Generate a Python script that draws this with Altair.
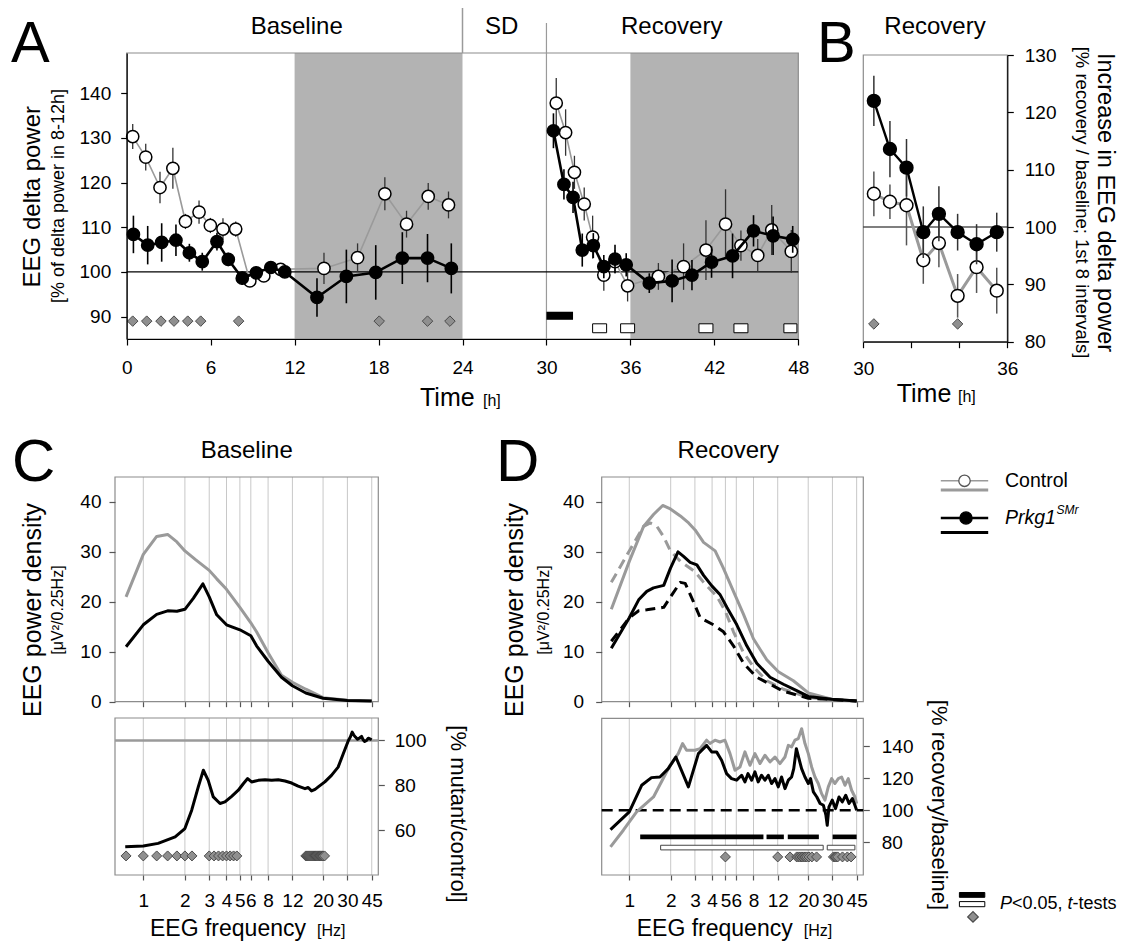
import altair as alt
import pandas as pd

FONT = "Liberation Sans"
W, H = 1111, 934
GRAY = "#9a9a9a"
SHADE = "#b3b3b3"
FRAME = "#8c8c8c"
GRID = "#c8c8c8"
DFILL = "#8f8f8f"
DSTROKE = "#4a4a4a"

# ---------------- Panel A data ----------------
a_time_ticks = [0, 6, 12, 18, 24, 30, 36, 42, 48]
a_value_ticks = [90, 100, 110, 120, 130, 140]
a_dark_start = [12, 36]
a_dark_end = [24, 48]
a_mut_base_t = [0.48, 1.5, 2.5, 3.52, 4.48, 5.4, 6.45, 7.26, 8.26, 9.26, 10.3, 11.3, 13.6, 15.7, 17.8, 19.7, 21.5, 23.2]
a_mut_base_v = [108.4, 106.0, 106.6, 107.1, 104.3, 102.3, 106.8, 102.8, 98.6, 99.8, 101.0, 100.0, 94.3, 99.0, 99.9, 103.1, 103.1, 100.8]
a_mut_base_e = [4.2, 4.3, 4.3, 3.5, 2.0, 2.0, 2.0, 1.5, 1.5, 1.0, 1.0, 1.0, 4.3, 6.0, 6.1, 5.8, 5.4, 5.6]
a_ctl_base_t = [0.43, 1.36, 2.38, 3.3, 4.2, 5.17, 5.98, 6.88, 7.79, 8.8, 9.8, 11.0, 14.1, 16.5, 18.45, 20.0, 21.55, 23.0]
a_ctl_base_v = [130.3, 125.7, 118.9, 123.2, 111.3, 113.4, 110.4, 109.6, 109.6, 98.0, 99.1, 100.6, 100.8, 103.2, 117.5, 110.7, 116.9, 115.0]
a_ctl_base_e = [2.8, 3.0, 3.5, 4.6, 1.7, 2.6, 1.7, 2.4, 1.7, 1.0, 1.0, 1.0, 3.5, 3.2, 3.7, 3.0, 3.0, 3.0]
a_mut_rec_t = [30.5, 31.25, 31.9, 32.56, 33.35, 34.1, 34.9, 35.7, 37.35, 38.98, 40.4, 41.8, 43.3, 44.8, 46.2, 47.6]
a_mut_rec_v = [131.6, 119.6, 116.7, 104.9, 105.9, 101.2, 102.9, 101.6, 97.5, 98.0, 99.3, 102.2, 103.6, 109.2, 108.1, 107.3]
a_mut_rec_e = [3.9, 3.4, 3.5, 3.7, 2.8, 2.6, 3.2, 2.6, 2.2, 4.8, 3.4, 3.5, 5.0, 3.5, 4.3, 3.0]
a_ctl_rec_t = [30.7, 31.37, 32.0, 32.7, 33.3, 34.1, 34.9, 35.8, 38.0, 39.8, 41.4, 42.8, 43.9, 45.1, 46.1, 47.5]
a_ctl_rec_v = [137.8, 131.2, 122.3, 115.2, 107.8, 99.3, 102.3, 96.9, 99.0, 101.2, 104.9, 110.7, 105.9, 103.7, 109.4, 104.6]
a_ctl_rec_e = [5.6, 5.2, 3.7, 3.7, 4.8, 3.5, 2.6, 3.5, 3.0, 5.2, 6.7, 7.8, 3.4, 3.7, 5.6, 4.8]
a_sig_t = [0.43, 1.43, 2.45, 3.38, 4.36, 5.29, 8.0, 18.05, 21.5, 23.1]
a_bar_start = [30.0]
a_bar_end = [31.9]
a_box_start = [33.3, 35.3, 40.9, 43.4, 46.97]
a_box_end = [34.3, 36.3, 41.9, 44.4, 47.9]

# ---------------- Panel B data ----------------
b_time_ticks = [30, 32, 34, 36]
b_value_ticks = [80, 90, 100, 110, 120, 130]
b_t = [30.44, 31.11, 31.8, 32.5, 33.15, 33.93, 34.72, 35.56]
b_mut_v = [122.0, 113.6, 110.35, 99.1, 102.3, 99.1, 97.0, 99.1]
b_mut_e = [4.4, 4.9, 5.0, 4.5, 4.8, 3.2, 3.5, 3.4]
b_ctl_v = [105.8, 104.4, 103.8, 94.2, 97.2, 88.0, 93.0, 88.9]
b_ctl_e = [3.9, 3.0, 7.0, 4.1, 4.2, 3.8, 4.5, 4.0]
b_sig_t = [30.44, 33.93]

# ---------------- Panels C / D data ----------------
freq_ticks = [1, 2, 3, 4, 5, 6, 8, 12, 20, 30, 45]
c_ctl_f = [0.75, 1.0, 1.25, 1.5, 1.75, 2.0, 2.4, 3.0, 3.4, 4.0, 5.0, 6.0, 6.6, 8.0, 10.0, 12.0, 15.0, 20.0, 30.0, 45.0]
c_ctl_v = [21.0, 29.5, 33.1, 33.5, 32.0, 30.2, 28.4, 26.3, 24.6, 22.5, 18.9, 15.8, 14.0, 9.8, 5.3, 3.9, 2.5, 0.8, 0.3, 0.15]
c_mut_f = [0.75, 1.0, 1.25, 1.5, 1.75, 2.0, 2.3, 2.7, 3.0, 3.4, 4.0, 5.0, 6.0, 6.6, 8.0, 10.0, 12.0, 15.0, 20.0, 30.0, 45.0]
c_mut_v = [11.0, 15.4, 17.5, 18.2, 18.1, 18.5, 20.7, 23.6, 21.0, 17.4, 15.4, 14.4, 13.2, 11.2, 8.1, 4.9, 3.2, 1.75, 0.7, 0.25, 0.15]
c_ratio_f = [0.74, 1.0, 1.28, 1.7, 2.0, 2.24, 2.5, 2.72, 2.95, 3.21, 3.59, 3.9, 4.36, 4.87, 5.29, 5.69, 6.08, 6.8, 7.6,
             8.5, 9.48, 10.6, 11.85, 13.2, 14.8, 15.6, 16.5, 17.5, 18.45, 20.6, 23.0, 25.7, 28.0, 30.5, 31.5, 32.5,
             33.3, 34.3, 35.5, 36.9, 38.0, 39.0, 40.0, 41.3, 42.5, 43.6, 45.0]
c_ratio_v = [52.6, 52.9, 54.1, 57.0, 60.7, 68.9, 79.3, 86.7, 82.2, 74.8, 71.9, 72.6, 75.1, 77.8, 80.7, 83.0, 81.5, 82.2, 82.5,
             82.2, 82.5, 81.9, 81.0, 79.6, 78.5, 79.0, 77.5, 78.2, 79.3, 81.5, 84.4, 88.1, 94.1, 100.0, 101.5, 103.7,
             102.5, 101.5, 100.5, 101.2, 101.8, 100.3, 99.5, 100.0, 101.0, 100.7, 100.3]
c_sig_f = [0.75, 1.0, 1.25, 1.5, 1.75, 2.0, 2.25, 3.0, 3.25, 3.5, 3.75, 4.0, 4.25, 4.5, 4.75,
           15.0, 15.25, 15.5, 15.75, 16.0, 16.25, 16.5, 16.75, 17.0, 17.25, 17.5, 17.75, 18.0, 18.25,
           18.5, 18.75, 19.0, 19.25, 19.5, 19.75, 20.0, 20.5]

d_ctl_rec_f = [0.74, 1.0, 1.27, 1.5, 1.75, 1.99, 2.35, 2.70, 3.01, 3.47, 4.21, 4.84, 5.72, 6.77, 7.99, 9.99, 12.14, 15.6, 20.04, 29.6, 45.0]
d_ctl_rec_v = [18.5, 28.1, 35.1, 37.5, 39.3, 38.6, 37.2, 35.8, 34.4, 31.9, 30.2, 26.7, 22.1, 17.5, 12.6, 8.4, 6.0, 4.2, 1.75, 0.5, 0.15]
d_ctl_base_f = [0.74, 1.0, 1.27, 1.42, 1.59, 1.78, 1.99, 2.35, 3.01, 3.47, 4.33, 4.98, 5.72, 6.77, 7.99, 9.99, 13.2, 20.04, 29.6, 45.0]
d_ctl_base_v = [23.9, 30.2, 35.1, 35.8, 35.1, 33.0, 30.2, 28.1, 26.0, 23.9, 21.1, 18.2, 14.0, 9.8, 7.0, 4.2, 2.5, 0.85, 0.35, 0.15]
d_mut_rec_f = [0.74, 1.0, 1.17, 1.34, 1.5, 1.78, 1.99, 2.26, 2.48, 2.77, 3.10, 3.47, 3.98, 4.58, 5.12, 6.05, 7.15, 8.45, 10.56, 13.2, 16.49, 20.04, 29.6, 45.0]
d_mut_rec_v = [10.7, 16.8, 20.4, 22.1, 22.8, 23.3, 26.7, 30.0, 29.1, 27.9, 27.4, 25.3, 23.2, 21.4, 18.9, 15.4, 11.2, 7.7, 4.9, 3.5, 2.2, 1.05, 0.5, 0.15]
d_mut_base_f = [0.74, 1.0, 1.17, 1.34, 1.78, 2.04, 2.35, 2.55, 2.93, 3.28, 4.10, 4.84, 5.72, 6.77, 8.45, 10.56, 13.2, 20.04, 45.0]
d_mut_base_v = [12.1, 16.8, 18.2, 18.4, 18.9, 21.4, 23.9, 23.7, 20.0, 16.8, 15.4, 14.0, 11.2, 7.7, 4.9, 3.5, 2.1, 0.7, 0.15]

d_rat_ctl_f = [0.73, 0.905, 1.13, 1.5, 1.98, 2.27, 2.44, 2.61, 3.0, 3.27, 3.65, 3.86, 4.2, 4.56, 4.96, 5.4, 5.87, 6.38,
               6.93, 7.54, 8.2, 8.92, 9.69, 10.54, 11.46, 12.46, 13.55, 14.33, 15.15, 16.02, 16.94, 17.91, 18.94, 20.03,
               21.18, 22.39, 23.67, 25.03, 26.47, 27.99, 29.6, 31.3, 33.09, 34.99, 37.0, 39.12, 41.36, 43.73, 45.0]
d_rat_ctl_v = [77.1, 87.5, 99.0, 108.3, 128.1, 135.4, 141.7, 137.5, 137.5, 138.5, 143.8, 141.7, 143.8, 142.7, 143.8,
               135.4, 125.0, 127.1, 136.5, 128.1, 135.4, 129.2, 134.4, 130.2, 133.3, 129.2, 133.3, 140.6, 139.6, 143.8,
               144.8, 151.0, 141.7, 135.4, 127.1, 120.8, 116.7, 110.4, 106.3, 114.6, 119.8, 116.7, 119.8, 120.8, 115.6,
               119.8, 112.5, 108.3, 104.2]
d_rat_mut_f = [0.73, 1.0, 1.23, 1.45, 1.67, 1.92, 2.18, 2.69, 3.18, 3.65, 3.97, 4.31, 4.69, 5.1, 5.54, 6.03, 6.56, 6.93,
               7.3, 7.76, 8.2, 8.66, 9.15, 9.69, 10.25, 10.83, 11.46, 12.12, 12.8, 13.55, 14.33, 15.15, 15.7, 16.4,
               17.0, 17.9, 18.94, 20.03, 20.8, 21.8, 23.1, 24.4, 25.8, 26.9, 27.5, 28.3, 29.9, 31.6, 33.5, 35.4, 37.5,
               39.6, 41.9, 43.7, 45.0]
d_rat_mut_v = [87.9, 99.0, 115.6, 120.4, 120.8, 126.0, 133.3, 114.6, 135.4, 140.6, 136.5, 136.5, 131.3, 122.9, 119.8,
               118.8, 121.9, 117.7, 122.9, 118.8, 124.0, 117.7, 121.9, 118.8, 121.9, 116.7, 119.8, 114.6, 120.8, 113.5,
               118.8, 120.8, 126.0, 138.5, 133.3, 126.0, 120.8, 116.7, 119.8, 111.5, 108.3, 104.2, 103.1, 96.9, 90.6,
               102.1, 106.3, 101.0, 108.3, 105.2, 109.4, 104.2, 107.3, 103.1, 100.0]
d_bar_mut_start = [1.2, 9.95, 14.2, 30.1]
d_bar_mut_end = [9.45, 13.3, 23.9, 45.0]
d_bar_ctl_start = [1.69, 27.5]
d_bar_ctl_end = [25.7, 43.7]
d_sig_f = [5.0, 12.0, 14.75, 16.5, 17.0, 17.5, 18.0, 18.5, 19.0, 19.5, 20.25, 21.25, 23.0,
           30.5, 31.25, 32.0, 32.75, 35.5, 38.5, 41.0]

# ---------------- scales (domain + pixel range per sub-panel) and axes ----------------
A_XD, A_YD = [0, 48], [85, 149]
B_XD, B_YD = [30, 36], [80, 130]
C_XD, D_XD = [0.624, 50.2], [0.63, 50.3]
T_YD, CB_YD, DB_YD = [0, 45], [40, 110], [59.5, 157.5]


def lin(dom, rng):
    return alt.Scale(type="linear", domain=dom, range=rng, nice=False, zero=False)


def logs(dom, rng):
    return alt.Scale(type="log", domain=dom, range=rng, nice=False)


def axis(orient, offset, values, tick=6, pad=10, labels=True, expr=None, color="black", domain=True):
    kw = dict(orient=orient, offset=offset, values=values, tickSize=tick, labelPadding=pad, labels=labels,
              labelFont=FONT, labelFontSize=19, labelColor="black", tickColor=color, domainColor=color,
              domain=domain, grid=False, title=None, labelFlush=False, labelOverlap=False, zindex=1,
              tickWidth=1.2, domainWidth=1.2)
    if expr:
        kw["labelExpr"] = expr
    return alt.Axis(**kw)


# each panel: dict(scale=..., axis=...) used identically by every layer of that panel
AX = dict(scale=lin(A_XD, [118.7, 790.3]), axis=axis("bottom", 331 - H, a_time_ticks, pad=13))
AY = dict(scale=lin(A_YD, [331, 45]), axis=axis("left", -118.7, a_value_ticks, pad=10))
BX = dict(scale=lin(B_XD, [855.3, 999.3]),
          axis=axis("bottom", 333.7 - H, b_time_ticks, pad=12,
                    expr="datum.value == 30 || datum.value == 36 ? datum.label : ''"))
BY = dict(scale=lin(B_YD, [333.7, 47]), axis=axis("right", 999.3 - W, b_value_ticks, pad=11))
CTX = dict(scale=logs(C_XD, [107, 370.3]),
           axis=axis("bottom", 693.7 - H, freq_ticks, tick=5, labels=False, color="#555555", domain=False))
CTY = dict(scale=lin(T_YD, [693.7, 469]),
           axis=axis("left", -107, [0, 10, 20, 30, 40], pad=8, color="#555555", domain=False))
CBX = dict(scale=logs(C_XD, [107, 370.3]),
           axis=axis("bottom", 867 - H, freq_ticks, tick=5, pad=11, color="#555555", domain=False))
CBY = dict(scale=lin(CB_YD, [867, 710]),
           axis=axis("right", 370.3 - W, [60, 80, 100], pad=10, color="#555555", domain=False))
DTX = dict(scale=logs(D_XD, [593.7, 855.3]),
           axis=axis("bottom", 693.7 - H, freq_ticks, tick=5, labels=False, color="#555555", domain=False))
DTY = dict(scale=lin(T_YD, [693.7, 469]),
           axis=axis("left", -593.7, [0, 10, 20, 30, 40], pad=12, color="#555555", domain=False))
DBX = dict(scale=logs(D_XD, [593.7, 855.3]),
           axis=axis("bottom", 867 - H, freq_ticks, tick=5, pad=11, color="#555555", domain=False))
DBY = dict(scale=lin(DB_YD, [867, 710.3]),
           axis=axis("right", 855.3 - W, [80, 100, 120, 140], pad=12, color="#555555", domain=False))


def sdf(t, v, e=None, seg="s"):
    d = pd.DataFrame({"t": t, "v": v})
    if e is not None:
        d["lo"] = [a - b for a, b in zip(v, e)]
        d["hi"] = [a + b for a, b in zip(v, e)]
    d["seg"] = seg
    return d


def box(xd, yd, xs, ys, color=FRAME, width=1.2):
    d = pd.DataFrame({"x0": [xd[0]], "x1": [xd[1]], "y0": [yd[0]], "y1": [yd[1]]})
    return alt.Chart(d).mark_rect(fillOpacity=0, stroke=color, strokeWidth=width).encode(
        x=alt.X("x0:Q", **xs), x2="x1:Q", y=alt.Y("y0:Q", **ys), y2="y1:Q")


def hline(xd, yval, xs, ys, color, width, dash=None):
    d = pd.DataFrame({"x0": [xd[0]], "x1": [xd[1]], "y": [yval]})
    kw = dict(color=color, strokeWidth=width)
    if dash:
        kw["strokeDash"] = dash
    return alt.Chart(d).mark_rule(**kw).encode(x=alt.X("x0:Q", **xs), x2="x1:Q", y=alt.Y("y:Q", **ys))


def curve(d, xs, ys, color, width, dash=None):
    kw = dict(color=color, strokeWidth=width, strokeJoin="round")
    if dash:
        kw["strokeDash"] = dash
    return alt.Chart(d).mark_line(**kw).encode(x=alt.X("t:Q", **xs), y=alt.Y("v:Q", **ys), detail="seg:N")


def errbars(d, xs, ys, color, width):
    return alt.Chart(d).mark_rule(color=color, strokeWidth=width).encode(
        x=alt.X("t:Q", **xs), y=alt.Y("lo:Q", **ys), y2="hi:Q")


def dots(d, xs, ys, fill, size, stroke="black", sw=1.5):
    return alt.Chart(d).mark_point(shape="circle", filled=True, fill=fill, stroke=stroke,
                                   strokeWidth=sw, size=size, opacity=1).encode(
        x=alt.X("t:Q", **xs), y=alt.Y("v:Q", **ys))


def diamonds(t, yval, xs, ys, size=110):
    d = pd.DataFrame({"t": t}).assign(v=yval)
    return alt.Chart(d).mark_point(shape="diamond", filled=True, fill=DFILL, stroke=DSTROKE,
                                   strokeWidth=1, size=size, opacity=1).encode(
        x=alt.X("t:Q", **xs), y=alt.Y("v:Q", **ys))


def bars(start, end, y0, y1, xs, ys, fill, stroke=None):
    d = pd.DataFrame({"s": start, "e": end}).assign(y0=y0, y1=y1)
    kw = dict(fill=fill)
    if stroke:
        kw.update(stroke=stroke, strokeWidth=1)
    return alt.Chart(d).mark_rect(**kw).encode(
        x=alt.X("s:Q", **xs), x2="e:Q", y=alt.Y("y0:Q", **ys), y2="y1:Q")


def grid(ticks, yd, xs, ys):
    d = pd.DataFrame({"f": ticks}).assign(y0=yd[0], y1=yd[1])
    return alt.Chart(d).mark_rule(color=GRID, strokeWidth=1).encode(
        x=alt.X("f:Q", **xs), y=alt.Y("y0:Q", **ys), y2="y1:Q")


def vsep(tval, xs, y0, y1, width):
    return alt.Chart(pd.DataFrame({"t": [tval]})).mark_rule(color=GRAY, strokeWidth=width).encode(
        x=alt.X("t:Q", **xs), y=alt.value(y0), y2=alt.value(y1))


# ---------------- Panel A ----------------
a_mut = pd.concat([sdf(a_mut_base_t, a_mut_base_v, a_mut_base_e, "base"),
                   sdf(a_mut_rec_t, a_mut_rec_v, a_mut_rec_e, "rec")])
a_ctl = pd.concat([sdf(a_ctl_base_t, a_ctl_base_v, a_ctl_base_e, "base"),
                   sdf(a_ctl_rec_t, a_ctl_rec_v, a_ctl_rec_e, "rec")])
panelA = alt.layer(
    bars(a_dark_start, a_dark_end, A_YD[0], A_YD[1], AX, AY, SHADE),
    box(A_XD, A_YD, AX, AY), vsep(24, AX, 0, 45, 1.5), vsep(30, AX, 15, 331, 1.2),
    hline(A_XD, 100, AX, AY, "black", 1.2),
    curve(a_ctl, AX, AY, GRAY, 1.6), errbars(a_ctl, AX, AY, "#333333", 1.3), dots(a_ctl, AX, AY, "white", 150),
    curve(a_mut, AX, AY, "black", 2.6), errbars(a_mut, AX, AY, "black", 1.6), dots(a_mut, AX, AY, "black", 150),
    diamonds(a_sig_t, 89, AX, AY),
    bars(a_bar_start, a_bar_end, 89.3, 91.1, AX, AY, "black"),
    bars(a_box_start, a_box_end, 86.4, 88.4, AX, AY, "white", "black"),
)

# ---------------- Panel B ----------------
b_mut = sdf(b_t, b_mut_v, b_mut_e)
b_ctl = sdf(b_t, b_ctl_v, b_ctl_e)
panelB = alt.layer(
    box(B_XD, B_YD, BX, BY),
    hline(B_XD, 100, BX, BY, "black", 1.2),
    curve(b_ctl, BX, BY, GRAY, 3), errbars(b_ctl, BX, BY, "#555555", 1.5), dots(b_ctl, BX, BY, "white", 165),
    curve(b_mut, BX, BY, "black", 2.4), errbars(b_mut, BX, BY, "#333333", 1.5), dots(b_mut, BX, BY, "black", 165),
    diamonds(b_sig_t, 83.1, BX, BY),
)

# ---------------- Panel C ----------------
panelCt = alt.layer(
    grid(freq_ticks, T_YD, CTX, CTY),
    box(C_XD, T_YD, CTX, CTY),
    curve(sdf(c_ctl_f, c_ctl_v), CTX, CTY, GRAY, 3),
    curve(sdf(c_mut_f, c_mut_v), CTX, CTY, "black", 3),
)
panelCb = alt.layer(
    grid(freq_ticks, CB_YD, CBX, CBY),
    box(C_XD, CB_YD, CBX, CBY),
    hline(C_XD, 100, CBX, CBY, GRAY, 2.5),
    curve(sdf(c_ratio_f, c_ratio_v), CBX, CBY, "black", 3),
    diamonds(c_sig_f, 48.5, CBX, CBY, size=100),
)

# ---------------- Panel D ----------------
panelDt = alt.layer(
    grid(freq_ticks, T_YD, DTX, DTY),
    box(D_XD, T_YD, DTX, DTY),
    curve(sdf(d_ctl_base_f, d_ctl_base_v), DTX, DTY, GRAY, 3, dash=[10, 6]),
    curve(sdf(d_ctl_rec_f, d_ctl_rec_v), DTX, DTY, GRAY, 3),
    curve(sdf(d_mut_base_f, d_mut_base_v), DTX, DTY, "black", 3, dash=[10, 6]),
    curve(sdf(d_mut_rec_f, d_mut_rec_v), DTX, DTY, "black", 3),
)
panelDb = alt.layer(
    grid(freq_ticks, DB_YD, DBX, DBY),
    box(D_XD, DB_YD, DBX, DBY),
    hline(D_XD, 100, DBX, DBY, "black", 2.5, dash=[11, 6]),
    curve(sdf(d_rat_ctl_f, d_rat_ctl_v), DBX, DBY, GRAY, 3),
    curve(sdf(d_rat_mut_f, d_rat_mut_v), DBX, DBY, "black", 3),
    bars(d_bar_mut_start, d_bar_mut_end, 81.9, 84.8, DBX, DBY, "black"),
    bars(d_bar_ctl_start, d_bar_ctl_end, 75.2, 78.1, DBX, DBY, "white", "#444444"),
    diamonds(d_sig_f, 70.8, DBX, DBY, size=100),
)

# ---------------- annotations ----------------
ANNO = alt.Data(values=[{"a": 1}])


def text(s, x, y, size, angle=0, align="center", baseline="middle", style="normal"):
    return alt.Chart(ANNO).mark_text(text=s, fontSize=size, angle=angle, align=align, baseline=baseline,
                                     font=FONT, fontStyle=style, color="black").encode(
        x=alt.value(x), y=alt.value(y))


def prule(x1, x2, y, color, width):
    return alt.Chart(ANNO).mark_rule(color=color, strokeWidth=width).encode(
        x=alt.value(x1), x2=alt.value(x2), y=alt.value(y))


def psym(x, y, shape, fill, stroke, size):
    return alt.Chart(ANNO).mark_point(shape=shape, filled=True, fill=fill, stroke=stroke, strokeWidth=1.3,
                                      size=size, opacity=1).encode(x=alt.value(x), y=alt.value(y))


def prect(x1, x2, y1, y2, fill, stroke):
    return alt.Chart(ANNO).mark_rect(fill=fill, stroke=stroke, strokeWidth=1).encode(
        x=alt.value(x1), x2=alt.value(x2), y=alt.value(y1), y2=alt.value(y2))


annos = [
    text("A", 3, 54, 58, align="left", baseline="alphabetic"),
    text("B", 809, 54, 58, align="left", baseline="alphabetic"),
    text("C", 4, 473, 60, align="left", baseline="alphabetic"),
    text("D", 488, 473, 60, align="left", baseline="alphabetic"),
    text("Baseline", 288.7, 18.7, 24),
    text("SD", 493.7, 18.7, 24),
    text("Recovery", 663.7, 18.7, 24),
    text("Recovery", 927, 18.7, 24),
    text("Baseline", 238.7, 443, 24),
    text("Recovery", 720.3, 443, 24),
    text("EEG delta power", 25, 188.7, 24, angle=270),
    text("[% of delta power in 8-12h]", 50.5, 188, 18, angle=270),
    text("Time", 412, 398, 25, align="left", baseline="alphabetic"),
    text("[h]", 475, 398, 16, align="left", baseline="alphabetic"),
    text("Time", 888.7, 394, 25, align="left", baseline="alphabetic"),
    text("[h]", 950, 394, 16, align="left", baseline="alphabetic"),
    text("Increase in EEG delta power", 1097, 194.5, 23.5, angle=90),
    text("[% recovery / baseline; 1st 8 intervals]", 1074, 194.5, 18.5, angle=90),
    text("EEG power density", 24.5, 602, 25, angle=270),
    text("[\u03bcV\u00b2/0.25Hz]", 50, 602, 16, angle=270),
    text("EEG power density", 507, 602, 25, angle=270),
    text("[\u03bcV\u00b2/0.25Hz]", 535.5, 602, 16, angle=270),
    text("[% mutant/control]", 450, 806, 22, angle=90),
    text("[% recovery/baseline]", 931, 797, 22, angle=90),
    text("EEG frequency", 142, 928, 23, align="left", baseline="alphabetic"),
    text("[Hz]", 309, 928, 16, align="left", baseline="alphabetic"),
    text("EEG frequency", 628.7, 928, 23, align="left", baseline="alphabetic"),
    text("[Hz]", 795.7, 928, 16, align="left", baseline="alphabetic"),
    # legend
    prule(932.8, 980.2, 472.8, GRAY, 1.5),
    psym(956.5, 472.8, "circle", "white", "#555555", 130),
    prule(932.8, 980.2, 482, GRAY, 3),
    text("Control", 997, 472.8, 19.5, align="left"),
    prule(932.8, 980.2, 510, "black", 2.5),
    psym(958, 510, "circle", "black", "black", 150),
    prule(932.8, 980.2, 524.6, "black", 3),
    text("Prkg1", 997, 510, 19.5, align="left", style="italic"),
    text("SMr", 1048.5, 502, 12, align="left", style="italic"),
    prect(951.4, 976.8, 884.5, 889.3, "black", "black"),
    prect(951.4, 976.8, 893.6, 898.7, "white", "black"),
    psym(965, 908.9, "diamond", DFILL, DSTROKE, 110),
    text("P", 992, 896, 18, align="left", style="italic"),
    text("<0.05, ", 1004, 896, 18, align="left"),
    text("t", 1059.6, 896, 18, align="left", style="italic"),
    text("-tests", 1064.6, 896, 18, align="left"),
]

chart = alt.layer(panelA, panelB, panelCt, panelCb, panelDt, panelDb, *annos).resolve_scale(
    x="independent", y="independent").resolve_axis(x="independent", y="independent").properties(
    width=W, height=H, autosize=alt.AutoSizeParams(type="none"), padding=0, background="white"
).configure_view(stroke="transparent")

chart.save("out.html", embed_options={"renderer": "svg", "actions": False})
